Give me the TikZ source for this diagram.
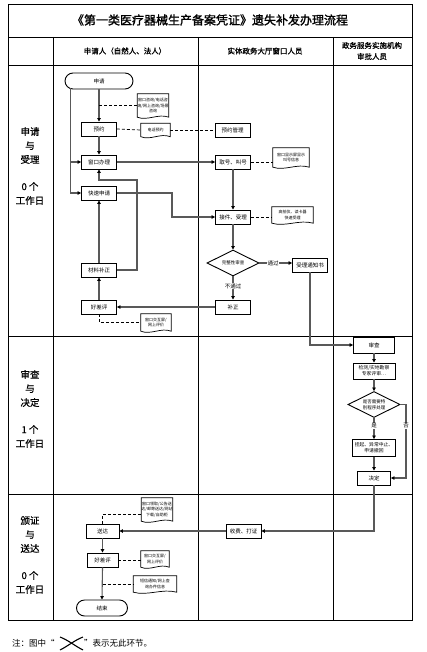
\documentclass[tikz,border=0pt]{standalone}
\usepackage{fontspec}
\setmainfont{Noto Sans CJK SC}
\newfontfamily\cjkbold[FakeBold=1.6]{Noto Sans CJK SC}
\newfontfamily\cjkmed[FakeBold=0.8]{Noto Sans CJK SC}
\usetikzlibrary{arrows.meta,shapes.geometric,calc}
\newcommand\docshape[1]{\draw[docb] (#1.north west) -- (#1.north east) -- (#1.south east) .. controls ($(#1.south east)!0.33!(#1.south west)+(0,-4)$) and ($(#1.south east)!0.67!(#1.south west)+(0,4)$) .. (#1.south west) -- cycle;}
\begin{document}
\begin{tikzpicture}[x=1pt,y=-1pt,
 tbl/.style={line width=0.9pt},
 bx/.style={draw,line width=0.9pt,minimum width=35pt,minimum height=14pt,inner sep=0pt,font=\fontsize{5.5}{6.5}\selectfont},
 term/.style={bx,rounded corners=8pt,minimum width=68pt,minimum height=16pt},
 doc/.style={inner sep=0pt,align=center,font=\fontsize{4}{5.2}\selectfont},
 docb/.style={line width=0.7pt},
 dia/.style={draw,diamond,aspect=2,inner sep=0pt,line width=0.9pt,minimum width=52pt,minimum height=26pt,align=center,font=\fontsize{4.5}{5.8}\selectfont},
 conn/.style={draw=black!65,line width=1.1pt},
 arr/.style={conn,-{Triangle[length=3.5pt,width=3.5pt,color=black]}},
 dsh/.style={draw=black,line width=0.7pt,dash pattern=on 3pt off 2pt},
 lbl/.style={fill=white,inner sep=0.8pt,font=\fontsize{5.5}{6.5}\selectfont},
 rowl/.style={align=center,font=\cjkmed\fontsize{9.5}{14}\selectfont},
 hdr/.style={align=center,font=\cjkmed\fontsize{7.5}{11}\selectfont}]
\useasboundingbox (0,0) rectangle (427,652);
\fill[white] (0,0) rectangle (427,652);
% table
\draw[tbl] (8,4) rectangle (412,620);
\draw[tbl] (8,37) -- (412,37);
\draw[tbl] (8,65) -- (412,65);
\draw[tbl] (53,37) -- (53,620);
\draw[tbl] (198,37) -- (198,620);
\draw[tbl] (333,37) -- (333,620);
\draw[tbl] (8,336) -- (412,336);
\draw[tbl] (8,494) -- (412,494);
\node[font=\cjkbold\fontsize{12}{14}\selectfont] (title) at (210,20) {《第一类医疗器械生产备案凭证》遗失补发办理流程};
\node[hdr] (h1) at (125,51) {申请人（自然人、法人）};
\node[hdr] (h2) at (265,51) {实体政务大厅窗口人员};
\node[hdr] (h3) at (372,51) {政务服务实施机构\\审批人员};
\node[rowl] (r1) at (30,166) {申请\\与\\受理\\[13pt]0 个\\工作日};
\node[rowl] (r2) at (30,409) {审查\\与\\决定\\[13pt]1 个\\工作日};
\node[rowl] (r3) at (30,555) {颁证\\与\\送达\\[13pt]0 个\\工作日};
% nodes
\node[term] (st) at (99,81) {申请};
\node[doc,minimum width=30pt,minimum height=23pt] (d1) at (153,105.5) {窗口咨询/电话咨\\询/网上咨询/场景\\咨询};
\node[bx] (yy) at (99,129) {预约};
\node[doc,minimum width=29pt,minimum height=13pt] (d2) at (155.5,130) {电话预约};
\node[bx] (yygl) at (232.5,130) {预约管理};
\node[bx] (ck) at (99,162) {窗口办理};
\node[bx] (qh) at (233,162) {取号、叫号};
\node[doc,minimum width=36pt,minimum height=19pt] (d3) at (291,157.5) {窗口显示屏显示\\叫号信息};
\node[bx] (ks) at (99,193) {快速申请};
\node[bx] (js) at (233,217) {接件、受理};
\node[doc,minimum width=41pt,minimum height=16pt] (d4) at (292.5,215) {高拍仪、读卡器\\快速受理};
\node[dia] (dia1) at (233,263) {完整性审查};
\node[bx] (tz) at (310,265) {受理通知书};
\node[bx] (bz) at (233,307) {补正};
\node[bx] (clbz) at (99,270) {材料补正};
\node[bx] (hcp1) at (99,307) {好差评};
\node[doc,minimum width=30pt,minimum height=17pt] (d5) at (156,322.5) {窗口交互屏/\\网上评价};
\node[bx,minimum width=41pt,minimum height=16pt] (sc) at (374,345) {审查};
\node[bx,minimum width=42pt,minimum height=16pt,align=center,font=\fontsize{4.8}{5.8}\selectfont] (jc) at (374,371) {检测/实地勘察\\专家评审…};
\node[dia] (dia2) at (374,404.5) {是否需要特\\别程序处理};
\node[bx,minimum width=43pt,minimum height=17pt,align=center,font=\fontsize{4.8}{6.2}\selectfont] (gq) at (374,448) {挂起、异常中止、\\申请撤回};
\node[bx,minimum width=33pt] (jd) at (374,478) {决定};
\node[bx] (sf) at (243.5,531) {收费、打证};
\node[bx,minimum width=33pt] (sd) at (102.5,531) {送达};
\node[doc,minimum width=28pt,minimum height=23pt] (d6) at (157,509.5) {窗口领取/公告送\\达/邮寄送达/网站\\下载/自助柜};
\node[bx,minimum width=31pt] (hcp2) at (102.5,560) {好差评};
\node[doc,minimum width=28pt,minimum height=16pt] (d7) at (155,559) {窗口交互屏/\\网上评价};
\node[term,minimum width=51pt] (end) at (102,608) {结束};
\node[doc,minimum width=43pt,minimum height=16pt] (d8) at (155,584) {短信通知/网上查\\询办件信息};
\docshape{d1}\docshape{d2}\docshape{d3}\docshape{d4}\docshape{d5}\docshape{d6}\docshape{d7}\docshape{d8}
% connectors
\coordinate (stl) at ($(st.south west)+(6,-1)$);
\draw[arr] (st.south) -- (yy.north);
\draw[dsh] (yy.north |- d1.west) -- (d1.west);
\draw[dsh] (yy.east) -- (d2.west);
\draw[dsh] (d2.east) -- (yygl.west);
\draw[arr] (yy.south) -- (ck.north);
\draw[arr] (stl) |- (ks.west);
\draw[arr] (stl |- ck.west) -- (ck.west);
\draw[arr] (ck.east) -- (qh.west);
\draw[dsh] (qh.east) -- (d3.west |- qh.east);
\draw[arr] (ks.east) -- (172,193) |- (js.west);
\draw[arr] (qh.south) -- (js.north);
\draw[dsh] (js.east) -- (d4.west |- js.east);
\draw[arr] (js.south) -- (dia1.north);
\draw[arr] (dia1.east) -- (tz.west |- dia1.east);
\node[lbl] (l1) at (273,263) {通过};
\draw[arr] (dia1.south) -- (bz.north);
\node[lbl] (l2) at (233,286) {不通过};
\draw[arr] (bz.west) -- (hcp1.east);
\draw[arr] (hcp1.north) -- (clbz.south);
\draw[arr] (clbz.north) -- (ks.south);
\draw[arr] (clbz.east) -- (137,270) |- (99,180) -- (ck.south);
\draw[dsh] (hcp1.south) |- (d5.west);
\draw[arr] (tz.south) |- (sc.west);
\draw[arr] (sc.south) -- (jc.north);
\draw[arr] (jc.south) -- (dia2.north);
\draw[arr] (dia2.south) -- (gq.north);
\node[lbl] (l3) at (374,426) {是};
\draw[arr] (gq.south) -- (jd.north);
\draw[arr] (dia2.east) -- (406,404.5) |- (jd.east);
\node[lbl] (l4) at (406,426) {否};
\draw[arr] (jd.south) |- (sf.east);
\draw[arr] (sf.west) -- (sd.east);
\draw[dsh] (sd.north) |- (d6.west |- 0,514);
\draw[arr] (sd.south) -- (hcp2.north);
\draw[dsh] (hcp2.east) -- (d7.west |- hcp2.east);
\draw[arr] (hcp2.south) -- (end.north);
\coordinate (t8) at (102.5,584);
\draw[dsh] (t8) -- (d8.west);
% footer
\node[anchor=west,inner sep=0pt,font=\fontsize{8.5}{10}\selectfont] (n1) at (12,643) {注：图中“};
\draw[line width=1.1pt] (60,637) .. controls (68,640) and (75,646) .. (83,650);
\draw[line width=1.1pt] (60,650) .. controls (68,646) and (75,640) .. (83,637);
\node[anchor=west,inner sep=0pt,font=\fontsize{8.5}{10}\selectfont] (n2) at (84,643) {”表示无此环节。};
\end{tikzpicture}
\end{document}
